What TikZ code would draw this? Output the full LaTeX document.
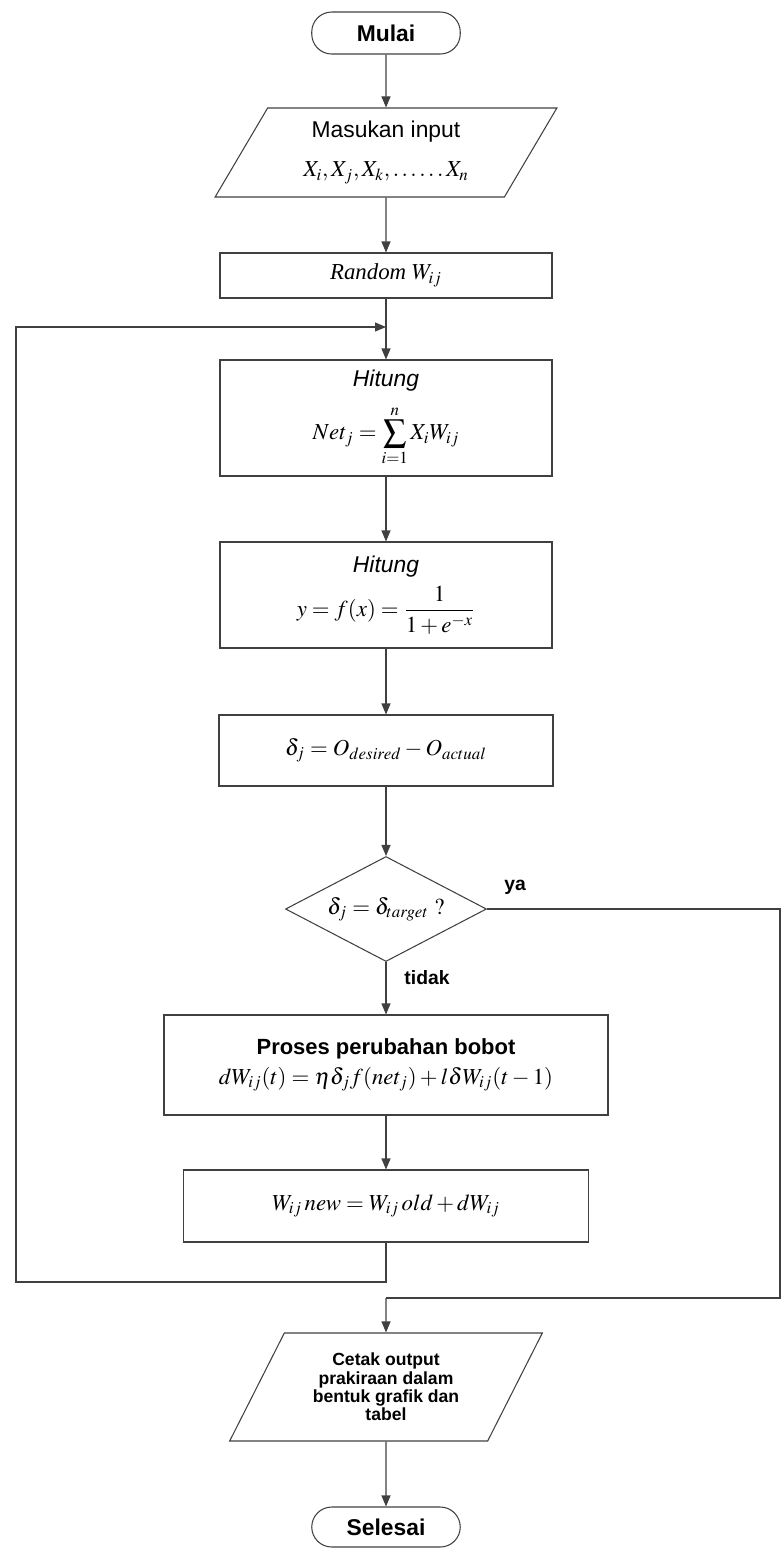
\documentclass[tikz,border=0pt]{standalone}
\usepackage{amsmath}
\usepackage{mathptmx}
\usepackage[no-math]{fontspec}
\setmainfont{Liberation Serif}
\setsansfont{Liberation Sans}
\usepackage{tikz}
\usetikzlibrary{arrows.meta, positioning, calc, shapes.geometric}

\begin{document}
\begin{tikzpicture}[
    garis/.style={draw=black!75, line width=0.6pt},
    panah/.style={garis, -{Triangle[length=2.2mm, width=1.8mm]}},
    kotak/.style={rectangle, draw=black!75, line width=0.6pt, minimum width=6.64cm, align=center, font=\fontsize{13}{16}\selectfont},
    terminal/.style={rectangle, rounded corners=0.4cm, draw=black!75, line width=0.6pt, minimum width=2.97cm, minimum height=0.84cm, font=\sffamily\bfseries\fontsize{13}{15}\selectfont},
    jajar/.style={trapezium, trapezium left angle=62, trapezium right angle=118, trapezium stretches=true, draw=black!75, line width=0.6pt, align=center},
    belah/.style={diamond, aspect=1.9, inner sep=0pt, draw=black!75, line width=0.6pt, minimum width=4.02cm, minimum height=2.1cm, font=\fontsize{13}{16}\selectfont},
    ket/.style={font=\sffamily\bfseries\fontsize{11}{13}\selectfont}
]
    \useasboundingbox (0, 0) rectangle (15.64, -30.96);

    % awal dan masukan
    \node[terminal] (mulai) at (7.72, -0.66) {Mulai};
    \node[jajar, minimum width=6.84cm, minimum height=1.78cm, font=\fontsize{13}{16}\selectfont] (masukan) at (7.72, -3.05)
        {{\sffamily Masukan input}\\[6pt] $X_i, X_j, X_k, \ldots\ldots X_n$};
    \node[kotak, minimum height=0.9cm] (acak) at (7.72, -5.51) {{\itshape Random} $W_{ij}$};
    \coordinate (gabung) at (7.72, -6.54);

    % proses hitung
    \node[kotak, minimum height=2.32cm] (hitung1) at (7.72, -8.36)
        {{\sffamily\itshape Hitung}\\[7pt] $\displaystyle Net_j = \sum_{i=1}^{n} X_i W_{ij}$};
    \node[kotak, minimum height=2.12cm] (hitung2) at (7.72, -11.90)
        {{\sffamily\itshape Hitung}\\[4pt] $y = f(x) = \dfrac{1}{1+e^{-x}}$};
    \node[kotak, minimum width=6.68cm, minimum height=1.42cm] (galat) at (7.72, -15.01)
        {$\delta_j = O_{desired} - O_{actual}$};

    % keputusan
    \node[belah] (cek) at (7.72, -18.18) {$\delta_j = \delta_{target}\ ?$};
    \node[ket] (ya) at (10.30, -17.74) {ya};
    \node[ket] (tidak) at (8.54, -19.56) {tidak};

    % perubahan bobot
    \node[kotak, minimum width=8.88cm, minimum height=2.0cm] (proses) at (7.72, -21.30)
        {{\sffamily\bfseries\fontsize{12.5}{15}\selectfont Proses perubahan bobot}\\[1pt]
         $dW_{ij}(t) = \eta\delta_j f(net_j) + l\delta W_{ij}(t-1)$};
    \node[kotak, minimum width=8.10cm, minimum height=1.44cm] (wbaru) at (7.72, -24.12)
        {$W_{ij}\,new = W_{ij}\,old + dW_{ij}$};
    \coordinate (kiri) at (0.32, -25.64);
    \coordinate (kanan) at (15.60, -25.96);
    \coordinate (temu) at (7.72, -25.96);

    % keluaran dan akhir
    \node[jajar, minimum width=6.26cm, minimum height=2.16cm, font=\sffamily\bfseries\fontsize{10}{10.5}\selectfont] (keluaran) at (7.72, -27.74)
        {Cetak output\\prakiraan dalam\\bentuk grafik dan\\tabel};
    \node[terminal, minimum height=0.80cm] (selesai) at (7.72, -30.54) {Selesai};

    % garis alir
    \draw[panah] (mulai) -- (masukan);
    \draw[panah] (masukan) -- (acak);
    \draw[garis] (acak) -- (gabung);
    \draw[panah] (gabung) -- (hitung1);
    \draw[panah] (hitung1) -- (hitung2);
    \draw[panah] (hitung2) -- (galat);
    \draw[panah] (galat) -- (cek);
    \draw[panah] (cek) -- (proses);
    \draw[panah] (proses) -- (wbaru);
    \draw[panah] (wbaru) |- (kiri) |- (gabung);
    \draw[garis] (cek.east) -| (kanan) -- (temu);
    \draw[panah] (temu) -- (keluaran);
    \draw[panah] (keluaran) -- (selesai);
\end{tikzpicture}
\end{document}
